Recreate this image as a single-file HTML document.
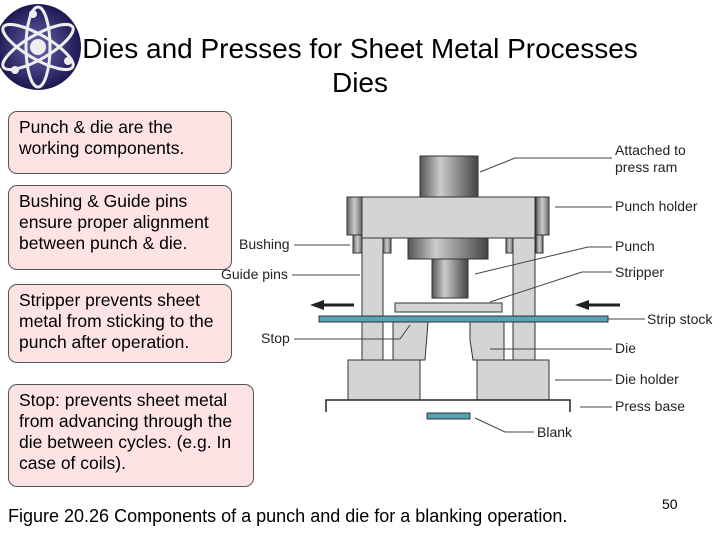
<!DOCTYPE html>
<html><head><meta charset="utf-8"><style>
body{margin:0;width:720px;height:540px;background:#fff;position:relative;overflow:hidden;font-family:"Liberation Sans",sans-serif}
.t{position:absolute;font-size:28px;color:#000;left:0;width:720px;text-align:center;line-height:34px}
.b{position:absolute;left:8px;width:206px;background:#fde3e3;border:1px solid #555;border-radius:9px;padding:5px 6px 0 10px;font-size:17.5px;line-height:21px;color:#000}
.l{position:absolute;font-size:14px;color:#222;line-height:17px}
</style></head><body>
<svg style="position:absolute;left:0;top:0" width="720" height="540">
<defs>
<radialGradient id="ag" cx="0.5" cy="0.5" r="0.5"><stop offset="0" stop-color="#6a64b0"/><stop offset="1" stop-color="#1c1850"/></radialGradient>
<linearGradient id="cg" x1="0" x2="1"><stop offset="0" stop-color="#555"/><stop offset="0.35" stop-color="#ccc"/><stop offset="1" stop-color="#444"/></linearGradient>
<linearGradient id="bg" x1="0" x2="1"><stop offset="0" stop-color="#666"/><stop offset="0.5" stop-color="#ccc"/><stop offset="1" stop-color="#666"/></linearGradient>
</defs>
<circle cx="38" cy="47" r="43" fill="url(#ag)"/>
<circle cx="38" cy="47" r="8" fill="#eee"/>
<g fill="none" stroke="#eee" stroke-width="3">
<ellipse cx="38" cy="47" rx="40" ry="12" transform="rotate(30 38 47)"/>
<ellipse cx="38" cy="47" rx="40" ry="12" transform="rotate(-30 38 47)"/>
<ellipse cx="38" cy="47" rx="40" ry="12" transform="rotate(90 38 47)"/>
</g>
<circle cx="33" cy="14" r="4" fill="#eee"/><circle cx="15" cy="70" r="4" fill="#eee"/><circle cx="68" cy="61" r="4" fill="#eee"/>
<g stroke="#333" stroke-width="1">
<rect x="420" y="156" width="58" height="41" fill="url(#cg)"/>
<rect x="347" y="197" width="15" height="38" fill="url(#bg)"/>
<rect x="536" y="197" width="13" height="38" fill="url(#bg)"/>
<rect x="353" y="235" width="9" height="18" fill="url(#bg)"/>
<rect x="383" y="235" width="8" height="18" fill="url(#bg)"/>
<rect x="506" y="235" width="7" height="18" fill="url(#bg)"/>
<rect x="536" y="235" width="7" height="18" fill="url(#bg)"/>
<rect x="362" y="197" width="21" height="163" fill="#d4d4d6"/>
<rect x="513" y="197" width="22" height="163" fill="#d4d4d6"/>
<rect x="362" y="197" width="173" height="41" fill="#d4d4d6"/>
<rect x="408" y="238" width="80" height="21" fill="url(#cg)"/>
<rect x="432" y="259" width="36" height="39" fill="url(#cg)"/>
<rect x="395" y="303" width="107" height="9" fill="#d4d4d6"/>
<path d="M393 322H428L425 360H393Z" fill="#d4d4d6"/>
<path d="M470 322H504V360H473L470 340Z" fill="#d4d4d6"/>
<rect x="348" y="360" width="72" height="40" fill="#d4d4d6"/>
<rect x="477" y="360" width="72" height="40" fill="#d4d4d6"/>
<rect x="319" y="316" width="289" height="6" fill="#5aa0b4"/>
<rect x="427" y="413" width="43" height="6" fill="#5aa0b4"/>
</g>
<path d="M326 412V400H570V412" fill="none" stroke="#222" stroke-width="1.5"/>
<g stroke="#222" stroke-width="3"><line x1="322" y1="305" x2="354" y2="305"/><line x1="583" y1="305" x2="620" y2="305"/></g>
<g fill="#222"><path d="M310 305L324 300V310Z"/><path d="M575 305L589 300V310Z"/></g>
<g stroke="#444" stroke-width="1" fill="none">
<path d="M612 158H515L480 172"/><path d="M612 207H555"/><path d="M612 247H588L475 274"/>
<path d="M612 272H582L490 302"/><path d="M645 319H608"/><path d="M612 349H490"/>
<path d="M612 380H555"/><path d="M612 407H580"/><path d="M534 432H505L475 418"/>
<path d="M294 245H350"/><path d="M292 275H360"/><path d="M294 339H400L410 325"/>
</g>
</svg>
<div class="t" style="top:32px">Dies and Presses for Sheet Metal Processes</div>
<div class="t" style="top:66px">Dies</div>
<div class="b" style="top:111px;height:56px">Punch &amp; die are the working components.</div>
<div class="b" style="top:185px;height:78px">Bushing &amp; Guide pins ensure proper alignment between punch &amp; die.</div>
<div class="b" style="top:284px;height:72px">Stripper prevents sheet metal from sticking to the punch after operation.</div>
<div class="b" style="top:384px;height:96px;width:228px">Stop: prevents sheet metal from advancing through the die between cycles. (e.g. In case of coils).</div>
<div class="l" style="left:615px;top:142px">Attached to<br>press ram</div>
<div class="l" style="left:615px;top:198px">Punch holder</div>
<div class="l" style="left:615px;top:238px">Punch</div>
<div class="l" style="left:615px;top:264px">Stripper</div>
<div class="l" style="left:647px;top:311px">Strip stock</div>
<div class="l" style="left:615px;top:340px">Die</div>
<div class="l" style="left:615px;top:371px">Die holder</div>
<div class="l" style="left:615px;top:398px">Press base</div>
<div class="l" style="left:537px;top:424px">Blank</div>
<div class="l" style="left:239px;top:236px">Bushing</div>
<div class="l" style="left:221px;top:266px">Guide pins</div>
<div class="l" style="left:261px;top:330px">Stop</div>
<div style="position:absolute;left:8px;top:506px;font-size:18px">Figure 20.26 Components of a punch and die for a blanking operation.</div>
<div style="position:absolute;left:662px;top:496px;font-size:14px">50</div>
</body></html>
